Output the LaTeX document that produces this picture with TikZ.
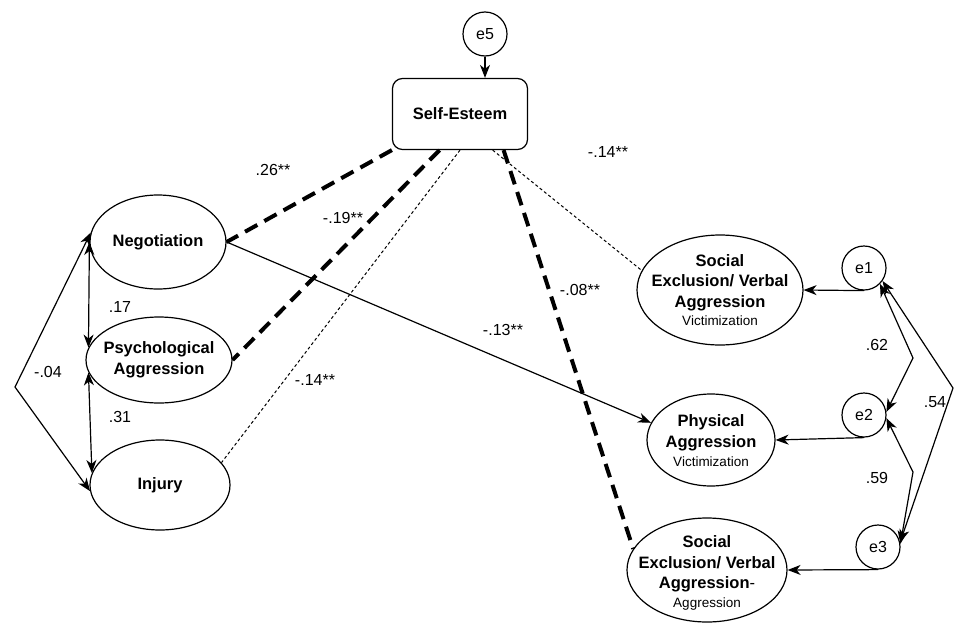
\documentclass[tikz,border=0pt]{standalone}
\usepackage{fontspec}
\setmainfont{Liberation Sans}
\usetikzlibrary{shapes.geometric,arrows.meta,calc}
\begin{document}
\begin{tikzpicture}[x=1pt,y=-1pt,
  lat/.style={ellipse,draw,line width=1.2pt,inner sep=0pt},
  txt/.style={align=center,inner sep=0pt,font=\fontsize{16.5}{20.5}\selectfont\bfseries},
  err/.style={circle,draw,line width=1.2pt,minimum size=44pt,inner sep=0pt,font=\fontsize{16}{19}\selectfont},
  lbl/.style={font=\fontsize{16}{19}\selectfont,inner sep=0pt},
  tip/.tip={Stealth[length=13pt,width=10pt,inset=4pt]},
  arr/.style={line width=1.2pt,-tip},
  cov/.style={line width=1.2pt,tip-tip},
  thickdash/.style={line width=4pt,dash pattern=on 14pt off 8pt},
  thindash/.style={line width=1pt,dash pattern=on 3pt off 2.5pt}]
\useasboundingbox (0,0) rectangle (955,624);
\newcommand{\subt}[1]{{\fontsize{13.5}{16}\selectfont\mdseries #1}}

% Self-esteem and e5
\node[draw,rounded corners=10pt,line width=1.2pt,minimum width=135pt,minimum height=71pt,font=\fontsize{16.5}{19}\selectfont\bfseries] (se) at (460,114) {Self-Esteem};
\node[err] (e5) at (485,34) {e5};
\draw[arr] (e5) -- (e5 |- se.north);

% left latent variables
\node[lat,minimum width=136pt,minimum height=94pt] (neg) at (158,242) {};
\node[txt] (negt) at (neg) {Negotiation};
\node[lat,minimum width=146pt,minimum height=86pt] (psy) at (159,360) {};
\node[txt] (psyt) at (psy) {Psychological\\Aggression};
\node[lat,minimum width=140pt,minimum height=90pt] (inj) at (160,485) {};
\node[txt] (injt) at (inj) {Injury};

% right latent variables
\node[lat,minimum width=166pt,minimum height=110pt] (sev) at (720,290) {};
\node[txt] (sevt) at (720,290) {Social\\Exclusion/ Verbal\\Aggression\\[-2pt]\subt{Victimization}};
\node[lat,minimum width=128pt,minimum height=92pt] (phy) at (711,440) {};
\node[txt] (phyt) at (711,441) {Physical\\Aggression\\[-1pt]\subt{Victimization}};
\node[lat,minimum width=160pt,minimum height=104pt] (sea) at (707,570) {};
\node[txt] (seat) at (707,573) {Social\\Exclusion/ Verbal\\Aggression\mdseries-\\[-2pt]\subt{Aggression}};

% error terms
\node[err] (e1) at (864,268) {e1};
\node[err] (e2) at (864,415) {e2};
\node[err] (e3) at (878,547) {e3};

\draw[arr] (e1.south) -- (sev.east);
\draw[arr] (e2.south) -- (phy.east);
\draw[arr] (e3.south) -- (sea.east);

% error covariances
\coordinate (k12) at (913,358);
\coordinate (k23) at (913,472);
\coordinate (k13) at (953,388);
\draw[cov] (e1.-45) -- (k12) -- (e2.8);
\draw[cov] (e2.-8) -- (k23) -- (e3.8);
\draw[cov] (e1.-35) -- (k13) -- (e3.12);
\node[lbl] (l62) at (877,345) {.62};
\node[lbl] (l54) at (935,402) {.54};
\node[lbl] (l59) at (877,478) {.59};

% left covariances
\coordinate (k04) at (15,387);
\draw[cov] (neg.west) -- (psy.170);
\draw[cov] (psy.190) -- (inj.170);
\draw[cov] (neg.172) -- (k04) -- (inj.185);
\node[lbl] (l17) at (120,307) {.17};
\node[lbl] (l31) at (120,417) {.31};
\node[lbl] (l04) at (48,372) {-.04};

% paths from self-esteem
\draw[thickdash] (se.south west) -- (neg.east);
\draw[thickdash] ($(se.south west)!0.35!(se.south east)$) -- (psy.east);
\draw[thindash] (se.south) -- (inj.20);
\draw[thickdash] ($(se.south west)!0.82!(se.south east)$) -- (sea.164);
\draw[thindash] ($(se.south west)!0.74!(se.south east)$) -- (sev.166);
\draw[arr] (neg.east) -- (phy.164);

\node[lbl] (l26) at (273,170) {.26**};
\node[lbl] (l19) at (343,218) {-.19**};
\node[lbl] (l14a) at (315,380) {-.14**};
\node[lbl] (l13) at (503,330) {-.13**};
\node[lbl] (l08) at (580,290) {-.08**};
\node[lbl] (l14b) at (608,152) {-.14**};
\end{tikzpicture}
\end{document}
